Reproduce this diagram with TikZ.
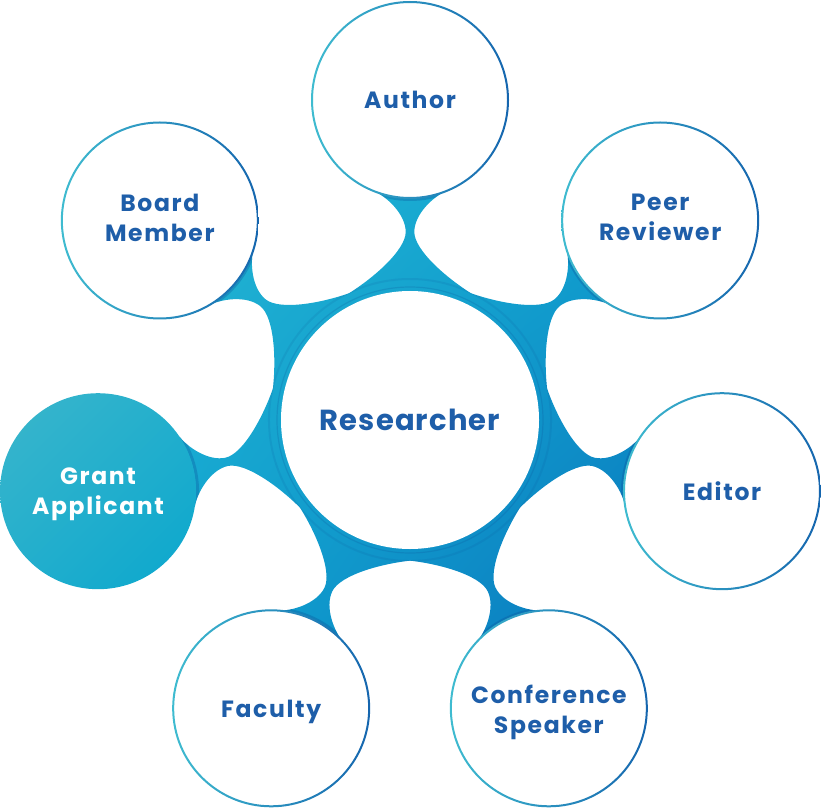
\documentclass[tikz,border=0pt]{standalone}
\usepackage{fontspec}
\setmainfont{Poppins}
\usetikzlibrary{calc,shadings}
\definecolor{ringL}{HTML}{25B6D3}
\definecolor{ringM}{HTML}{0FA2D0}
\definecolor{ringD}{HTML}{0A76BD}
\definecolor{strokeL}{HTML}{3FBCD0}
\definecolor{strokeD}{HTML}{1565AE}
\definecolor{txt}{HTML}{1E5EA9}
\definecolor{grantL}{HTML}{3BB6CB}
\definecolor{grantD}{HTML}{0AA7CE}
\definecolor{fold}{HTML}{0A4F96}
\colorlet{grantM}{grantL!50!grantD}
\tikzset{
  lbl/.style={font=\fontsize{23.5}{30}\selectfont\bfseries\addfontfeatures{LetterSpace=7}, text=txt, align=center},
  mainlbl/.style={font=\fontsize{29}{34}\selectfont\bfseries\addfontfeatures{LetterSpace=4}, text=txt, align=center},
  grantlbl/.style={lbl, text=white},
  teal/.style={upper left=ringL, upper right=ringM, lower left=ringM, lower right=ringD},
}
\begin{document}
\begin{tikzpicture}[x=1pt,y=1pt]
\useasboundingbox (0,0) rectangle (821,807);
\coordinate (C) at (410,387);
% teal hub and bridges
\begin{scope}
  \clip (C) circle (140pt);
  \shade[teal] (180,160) rectangle (640,640);
\end{scope}
\foreach \a in {90,38.571,-12.857,-64.286,-115.714,-167.143,141.429}{
  \begin{scope}[shift={(410,387)},rotate=\a]
    \clip
      (121.24,70) .. controls (140.24,37.1) and (170,4.3) .. (188,4.3)
      .. controls (206,4.3) and (223.9,23.73) .. (229.14,36.71)
      -- (229.14,-36.71)
      .. controls (223.9,-23.73) and (206,-4.3) .. (188,-4.3)
      .. controls (170,-4.3) and (140.24,-37.1) .. (121.24,-70) -- cycle;
    \shade[teal, reset cm] (180,160) rectangle (640,640);
    \draw[fold, opacity=0.3, line width=3pt] (320,0) circle (99.5pt);
    \draw[fold, opacity=0.12, line width=2pt] (0,0) circle (141pt);
  \end{scope}
}
\draw[fold, opacity=0.2, line width=1.2pt] (C) circle (133pt);
\fill[white] (C) circle (129pt);
\node[mainlbl] (res) at (C) {Researcher};
% outer circles
\foreach \a/\n in {90/author,38.571/peer,-12.857/editor,-64.286/conf,-115.714/faculty,141.429/board}{
  \coordinate (\n) at ($(C)+(\a:320)$);
  \fill[white] (\n) circle (98pt);
  \begin{scope}[even odd rule]
    \clip (\n) circle (99pt) (\n) circle (97pt);
    \shade[left color=strokeL, right color=strokeD] ($(\n)+(-100,-100)$) rectangle ($(\n)+(100,100)$);
  \end{scope}
}
\coordinate (grant) at ($(C)+(-167.143:320)$);
\shade[upper left=grantL, upper right=grantM, lower left=grantM, lower right=grantD] (grant) circle (98pt);
\node[lbl] (tauthor) at (author) {Author};
\node[lbl] (tpeer) at ($(peer)+(0,3)$) {Peer\\Reviewer};
\node[lbl] (teditor) at (editor) {Editor};
\node[lbl] (tconf) at ($(conf)+(0,-4)$) {Conference\\Speaker};
\node[lbl] (tfaculty) at ($(faculty)+(0,-4)$) {Faculty};
\node[lbl] (tboard) at ($(board)+(0,3)$) {Board\\Member};
\node[grantlbl] (tgrant) at ($(grant)+(0,-3)$) {Grant\\Applicant};
\end{tikzpicture}
\end{document}
